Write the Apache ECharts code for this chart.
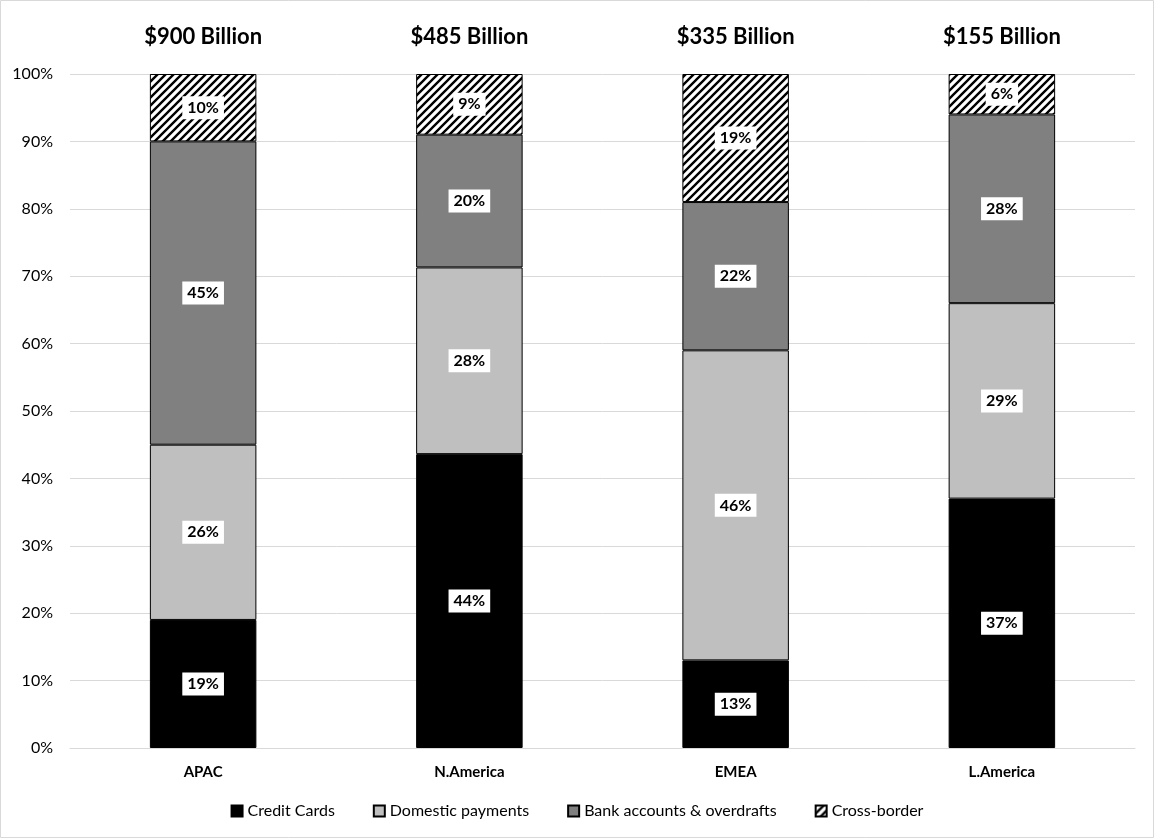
<!DOCTYPE html>
<html>
<head>
<meta charset="utf-8">
<script src="https://cdn.jsdelivr.net/npm/echarts@6/dist/echarts.min.js"></script>
<style>
html, body { margin: 0; padding: 0; background: #fff; }
#chart { width: 1154px; height: 838px; }
</style>
</head>
<body>
<div id="chart"></div>
<script>
var regions = ['APAC', 'N.America', 'EMEA', 'L.America'];
var totals = ['$900 Billion', '$485 Billion', '$335 Billion', '$155 Billion'];
var creditCards = [19, 43.6, 13, 37];
var domesticPayments = [26, 27.7, 46, 29];
var bankAccounts = [45, 19.7, 22, 28];
var crossBorder = [10, 9, 19, 6];

// diagonal hatch for cross-border
function hatch() {
    var c = document.createElement('canvas');
    c.width = 8; c.height = 8;
    var ctx = c.getContext('2d');
    ctx.fillStyle = '#fff';
    ctx.fillRect(0, 0, 8, 8);
    ctx.strokeStyle = '#000';
    ctx.lineWidth = 2.4;
    ctx.beginPath();
    ctx.moveTo(-2, 10); ctx.lineTo(10, -2);
    ctx.moveTo(-2, 2); ctx.lineTo(2, -2);
    ctx.moveTo(6, 10); ctx.lineTo(10, 6);
    ctx.stroke();
    return c;
}

var font = 'Lato, "Open Sans", sans-serif';
var myChart = echarts.init(document.getElementById('chart'));

function barSeries(name, data, color) {
    return {
        name: name,
        type: 'bar',
        stack: 'total',
        barWidth: '40%',
        data: data,
        itemStyle: { color: color, borderColor: '#000', borderWidth: 1 },
        label: {
            show: true,
            position: 'inside',
            formatter: function (p) { return Math.round(p.value) + '%'; },
            backgroundColor: '#fff',
            padding: [4, 5, 3, 5],
            color: '#000',
            fontWeight: 'bold',
            fontSize: 16,
            fontFamily: font
        },
        emphasis: { disabled: true }
    };
}

option = {
    backgroundColor: '#fff',
    animation: false,
    textStyle: { fontFamily: font },
    graphic: [{
        type: 'rect',
        shape: { x: 0.5, y: 0.5, width: 1153, height: 837 },
        style: { fill: 'none', stroke: '#d9d9d9', lineWidth: 1 },
        silent: true
    }],
    grid: { left: 70, right: 19, top: 74, bottom: 90 },
    legend: {
        bottom: 14,
        left: 'center',
        icon: 'rect',
        itemWidth: 11,
        itemHeight: 11,
        itemGap: 38,
        textStyle: { fontSize: 16, color: '#000', fontFamily: font },
        data: ['Credit Cards', 'Domestic payments', 'Bank accounts & overdrafts', 'Cross-border']
    },
    xAxis: [{
        type: 'category',
        data: regions,
        axisLine: { lineStyle: { color: '#d9d9d9' } },
        axisTick: { show: false },
        axisLabel: { color: '#000', fontWeight: 'bold', fontSize: 15, margin: 17, fontFamily: font }
    }, {
        type: 'category',
        position: 'top',
        data: totals,
        axisLine: { show: false },
        axisTick: { show: false },
        axisLabel: { color: '#000', fontWeight: 'bold', fontSize: 22, margin: 26, fontFamily: font }
    }],
    yAxis: {
        type: 'value',
        min: 0,
        max: 100,
        interval: 10,
        axisLine: { show: false },
        axisTick: { show: false },
        axisLabel: { formatter: '{value}%', color: '#000', fontSize: 16, margin: 17, fontFamily: font },
        splitLine: { lineStyle: { color: '#d9d9d9' } }
    },
    series: [
        barSeries('Credit Cards', creditCards, '#000000'),
        barSeries('Domestic payments', domesticPayments, '#bfbfbf'),
        barSeries('Bank accounts & overdrafts', bankAccounts, '#808080'),
        barSeries('Cross-border', crossBorder, { image: hatch(), repeat: 'repeat' })
    ]
};

myChart.setOption(option);
</script>
</body>
</html>
